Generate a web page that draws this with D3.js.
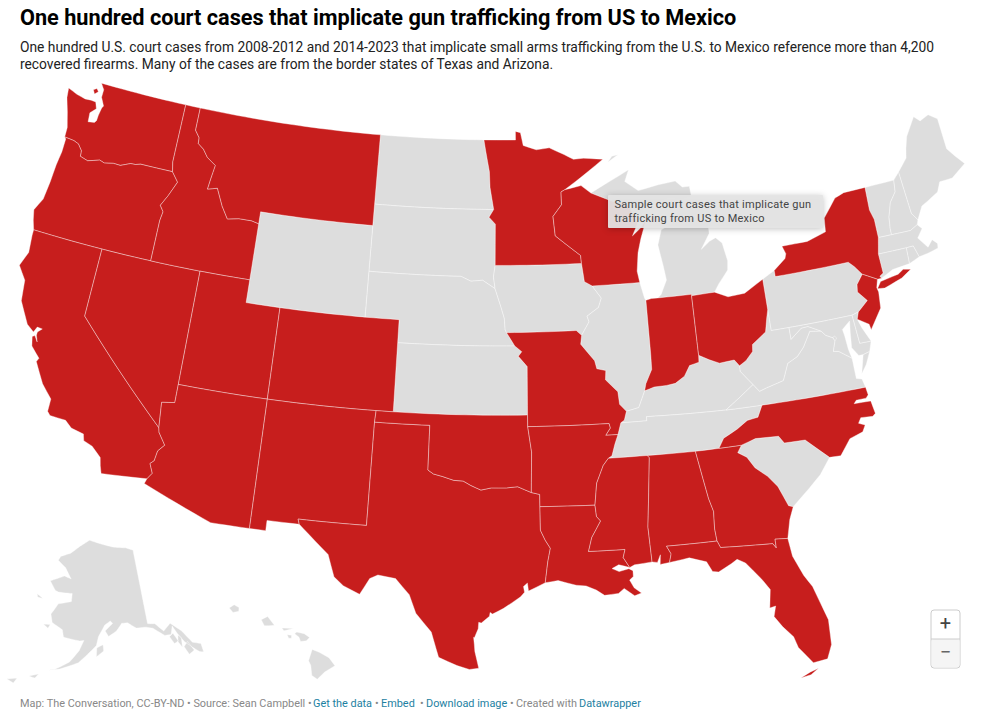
<!DOCTYPE html>
<html>
<head>
<meta charset="utf-8">
<script src="https://cdn.jsdelivr.net/npm/d3@7"></script>
<style>
  html, body { margin: 0; padding: 0; background: #fff; }
  svg { display: block; font-family: Roboto, sans-serif; }
  .state { stroke: #fff; stroke-width: 0.5; stroke-opacity: 0.75; stroke-linejoin: round; }
  .tip-box { filter: drop-shadow(0 1px 3px rgba(0,0,0,0.25)); }
</style>
</head>
<body>
<svg id="chart" width="1000" height="719"></svg>
<script>
/* ============================================================
   TEXT
============================================================ */
const titleText = "One hundred court cases that implicate gun trafficking from US to Mexico";
const subtitleLines = [
  "One hundred U.S. court cases from 2008-2012 and 2014-2023 that implicate small arms trafficking from the U.S. to Mexico reference more than 4,200",
  "recovered firearms. Many of the cases are from the border states of Texas and Arizona."
];
const tooltipLines = ["Sample court cases that implicate gun", "trafficking from US to Mexico"];
const footerParts = ["Map: The Conversation, CC-BY-ND • Source: Sean Campbell •", "Get the data", "•", "Embed", "•", "Download image", "•", "Created with", "Datawrapper"];
const footerLinks = ["Get the data", "Embed", "Download image", "Datawrapper"];

/* ============================================================
   DATA: WHICH STATES HAVE CASES
============================================================ */
const statesWithCases = ["WA","OR","CA","NV","ID","MT","UT","AZ","CO","NM","TX","OK","MN","WI","MO",
  "AR","LA","MS","AL","GA","FL","NC","IN","OH","NY","NJ"];
const statesWithout = ["ND","SD","NE","KS","WY","IA","IL","MI","PA","KY","TN","VA","WV","MD","DE","DC",
  "SC","VT","NH","ME","MA","CT","RI"];

/* ============================================================
   DATA: STATE OUTLINES (lon, lat)
============================================================ */
const WA = [[[-122.76,49],[-117.03,49],[-117.04,46.42],[-116.92,46],[-118.98,46],[-119.3,45.93],[-119.6,45.92],[-120.2,45.73],[-120.65,45.74],[-121.2,45.65],[-121.53,45.72],[-122.25,45.55],[-122.76,45.65],[-122.8,45.9],[-123.1,46.15],[-123.43,46.23],[-123.7,46.25],[-124.05,46.27],[-124.07,46.7],[-124.2,47],[-124.35,47.35],[-124.65,47.95],[-124.73,48.38],[-124.1,48.22],[-123.5,48.13],[-123.1,48.15],[-122.78,48.13],[-122.62,47.85],[-122.95,47.6],[-122.9,47.2],[-122.5,47.25],[-122.4,47.35],[-122.38,47.6],[-122.3,47.95],[-122.22,48.05],[-122.5,48.4],[-122.5,48.75]],
  [[-123.15,48.62],[-122.95,48.72],[-122.8,48.6],[-123,48.45]]];
const OR = [[[-124.05,46.27],[-123.7,46.25],[-123.43,46.23],[-123.1,46.15],[-122.8,45.9],[-122.76,45.65],[-122.25,45.55],[-121.53,45.72],[-121.2,45.65],[-120.65,45.74],[-120.2,45.73],[-119.6,45.92],[-119.3,45.93],[-118.98,46],[-116.92,46],[-116.47,45.6],[-116.85,44.95],[-117.2,44.45],[-116.95,44.2],[-117.03,43.8],[-117.03,42],[-120,42],[-124.21,42],[-124.4,42.4],[-124.55,42.84],[-124.2,43.4],[-124.1,44.2],[-124.05,45],[-123.95,45.6],[-123.95,46.2]]];
const CA = [[[-124.21,42],[-120,42],[-120,39],[-114.63,35],[-114.57,34.8],[-114.14,34.3],[-114.45,34],[-114.53,33.55],[-114.72,33.4],[-114.5,33],[-114.72,32.72],[-117.12,32.53],[-117.25,32.85],[-117.35,33.2],[-117.9,33.6],[-118.4,33.75],[-118.5,34.03],[-119.2,34.15],[-119.6,34.42],[-120.47,34.45],[-120.65,34.6],[-120.65,35.15],[-121.3,35.7],[-121.95,36.55],[-121.86,36.72],[-122.1,36.9],[-122.42,37.15],[-122.55,37.55],[-122.42,37.62],[-122.2,37.38],[-122.34,37.65],[-122.34,37.8],[-122.12,37.98],[-122.42,38],[-122.55,37.75],[-123,38],[-123.7,38.9],[-123.85,39.8],[-124.4,40.35],[-124.1,41],[-124.2,41.75]]];
const NV = [[[-120,42],[-117.03,42],[-114.04,42],[-114.04,37],[-114.04,36.2],[-114.75,36.1],[-114.63,35],[-120,39]]];
const ID = [[[-117.03,49],[-116.05,49],[-116.05,48],[-115.72,47.7],[-115.7,47.45],[-115.3,47.25],[-114.95,46.93],[-114.35,46.65],[-114.48,46],[-114.55,45.57],[-113.95,45.69],[-113.45,44.95],[-113,44.45],[-112.3,44.55],[-111.5,44.55],[-111.05,44.47],[-111.05,42],[-114.04,42],[-117.03,42],[-117.03,43.8],[-116.95,44.2],[-117.2,44.45],[-116.85,44.95],[-116.47,45.6],[-116.92,46],[-117.04,46.42]]];
const MT = [[[-116.05,49],[-104.05,49],[-104.05,45.94],[-104.05,45],[-111.05,45],[-111.05,44.47],[-111.5,44.55],[-112.3,44.55],[-113,44.45],[-113.45,44.95],[-113.95,45.69],[-114.55,45.57],[-114.48,46],[-114.35,46.65],[-114.95,46.93],[-115.3,47.25],[-115.7,47.45],[-115.72,47.7],[-116.05,48]]];
const WY = [[[-111.05,45],[-104.05,45],[-104.05,43],[-104.05,41],[-109.05,41],[-111.05,41],[-111.05,42],[-111.05,44.47]]];
const UT = [[[-114.04,42],[-111.05,42],[-111.05,41],[-109.05,41],[-109.05,37],[-114.04,37]]];
const AZ = [[[-114.04,37],[-109.05,37],[-109.05,31.33],[-111.07,31.33],[-114.81,32.5],[-114.72,32.72],[-114.5,33],[-114.72,33.4],[-114.53,33.55],[-114.45,34],[-114.14,34.3],[-114.57,34.8],[-114.63,35],[-114.75,36.1],[-114.04,36.2]]];
const CO = [[[-109.05,41],[-104.05,41],[-102.05,41],[-102.05,40],[-102.05,37],[-103,37],[-109.05,37]]];
const NM = [[[-109.05,37],[-103,37],[-103.04,36.5],[-103.06,32],[-106.62,32],[-106.53,31.78],[-108.21,31.78],[-108.21,31.33],[-109.05,31.33]]];
const TX = [[[-103.04,36.5],[-100,36.5],[-100,34.56],[-99.7,34.4],[-99.2,34.3],[-98.6,34.15],[-98.1,34.13],[-97.7,33.95],[-97.15,33.75],[-96.6,33.85],[-95.8,33.85],[-95.2,33.9],[-94.48,33.64],[-94.04,33.55],[-94.04,33.02],[-94.04,31.99],[-93.8,31.55],[-93.55,31.2],[-93.7,30.6],[-93.75,30.3],[-93.85,29.7],[-94.7,29.35],[-94.75,29.7],[-94.95,29.55],[-94.9,29.3],[-95.1,29.1],[-95.95,28.6],[-96.5,28.35],[-96.62,28.42],[-96.65,28.25],[-97.05,27.95],[-97.18,27.98],[-97.2,27.7],[-97.38,27.3],[-97.42,27.32],[-97.38,27],[-97.35,26.7],[-97.15,25.96],[-97.6,25.9],[-98.2,26.06],[-99.1,26.4],[-99.5,27.5],[-100.3,28.3],[-100.67,29.1],[-101.4,29.77],[-102.3,29.88],[-102.7,29.7],[-103.15,28.98],[-104,29.3],[-104.5,29.65],[-104.9,30.6],[-106,31.4],[-106.53,31.78],[-106.62,32],[-103.06,32]]];
const OK = [[[-103,37],[-102.05,37],[-94.62,37],[-94.62,36.5],[-94.43,35.4],[-94.48,33.64],[-95.2,33.9],[-95.8,33.85],[-96.6,33.85],[-97.15,33.75],[-97.7,33.95],[-98.1,34.13],[-98.6,34.15],[-99.2,34.3],[-99.7,34.4],[-100,34.56],[-100,36.5],[-103.04,36.5]]];
const KS = [[[-102.05,40],[-95.3,40],[-94.9,39.75],[-95.1,39.55],[-94.6,39.1],[-94.62,37],[-102.05,37]]];
const NE = [[[-104.05,43],[-98.5,43],[-97.9,42.8],[-97.2,42.85],[-96.45,42.49],[-96.1,41.7],[-95.9,41.2],[-95.85,40.7],[-95.77,40.58],[-95.3,40],[-102.05,40],[-102.05,41],[-104.05,41]]];
const SD = [[[-104.05,45.94],[-96.56,45.94],[-96.85,45.6],[-96.45,45.3],[-96.45,43.5],[-96.55,43],[-96.45,42.49],[-97.2,42.85],[-97.9,42.8],[-98.5,43],[-104.05,43],[-104.05,45]]];
const ND = [[[-104.05,49],[-97.23,49],[-97.1,48.5],[-96.85,47.6],[-96.8,46.9],[-96.56,45.94],[-104.05,45.94]]];
const MN = [[[-97.23,49],[-95.15,49],[-95.15,49.38],[-94.82,49.32],[-94.65,48.75],[-93.8,48.55],[-92.95,48.62],[-92,48.3],[-91.4,48.07],[-90.75,48.1],[-89.5,48],[-90,47.75],[-91,47.25],[-92.05,46.75],[-92.29,46.66],[-92.29,46.1],[-92.85,45.6],[-92.75,44.75],[-91.25,43.85],[-91.22,43.5],[-96.45,43.5],[-96.45,45.3],[-96.85,45.6],[-96.56,45.94],[-96.8,46.9],[-96.85,47.6],[-97.1,48.5]]];
const IA = [[[-96.45,43.5],[-91.22,43.5],[-91.1,42.7],[-90.65,42.5],[-90.15,41.95],[-90.35,41.55],[-91.05,41.2],[-90.95,40.95],[-91.42,40.38],[-91.72,40.6],[-95.77,40.58],[-95.85,40.7],[-95.9,41.2],[-96.1,41.7],[-96.45,42.49],[-96.55,43]]];
const MO = [[[-95.77,40.58],[-91.72,40.6],[-91.42,40.38],[-91.5,40],[-90.75,39.25],[-90.65,38.9],[-90.15,38.8],[-90.2,38.4],[-89.55,37.85],[-89.5,37.3],[-89.15,36.98],[-89.3,36.6],[-89.5,36.5],[-89.7,36],[-90.37,36],[-90.1,36.3],[-90.15,36.5],[-94.62,36.5],[-94.62,37],[-94.6,39.1],[-95.1,39.55],[-94.9,39.75],[-95.3,40]]];
const AR = [[[-94.62,36.5],[-90.15,36.5],[-90.1,36.3],[-90.37,36],[-89.7,36],[-89.9,35.6],[-90.1,35.1],[-90.3,35],[-90.6,34.7],[-91,33.95],[-91.15,33],[-94.04,33.02],[-94.04,33.55],[-94.48,33.64],[-94.43,35.4]]];
const LA = [[[-94.04,33.02],[-91.15,33],[-91.1,32.5],[-90.9,32.3],[-91.4,31.6],[-91.6,31],[-89.73,31],[-89.85,30.65],[-89.55,30.2],[-90.1,30.35],[-90.45,30.2],[-90.1,30.05],[-89.6,30.15],[-89.4,30.05],[-89.4,29.8],[-89.6,29.65],[-89.4,29.3],[-89.05,29.05],[-89.4,28.95],[-89.9,29.3],[-90.2,29.1],[-90.9,29.05],[-91.3,29.3],[-91.8,29.5],[-92.3,29.55],[-93.2,29.78],[-93.85,29.7],[-93.75,30.3],[-93.7,30.6],[-93.55,31.2],[-93.8,31.55],[-94.04,31.99]]];
const MS = [[[-90.3,35],[-88.2,35],[-88.1,34.9],[-88.47,31.9],[-88.4,30.37],[-89.3,30.3],[-89.55,30.2],[-89.85,30.65],[-89.73,31],[-91.6,31],[-91.4,31.6],[-90.9,32.3],[-91.1,32.5],[-91.15,33],[-91,33.95],[-90.6,34.7]]];
const AL = [[[-88.2,35],[-85.6,34.98],[-85.18,32.87],[-85,32.3],[-85.05,31.55],[-85,31],[-87.6,31],[-87.4,30.65],[-87.52,30.28],[-88,30.23],[-87.95,30.65],[-88.13,30.33],[-88.4,30.37],[-88.47,31.9],[-88.1,34.9]]];
const GA = [[[-85.6,34.98],[-84.32,34.99],[-83.1,35],[-83.35,34.7],[-82.9,34.45],[-82.55,33.95],[-81.95,33.5],[-81.5,33],[-81.1,32.1],[-80.87,32.03],[-81.15,31.5],[-81.4,30.7],[-82.05,30.75],[-82.05,30.36],[-82.2,30.57],[-84.86,30.7],[-85,31],[-85.05,31.55],[-85,32.3],[-85.18,32.87]]];
const FL = [[[-87.6,31],[-85,31],[-84.86,30.7],[-82.2,30.57],[-82.05,30.36],[-82.05,30.75],[-81.4,30.7],[-81.3,29.9],[-80.9,29],[-80.55,28.45],[-80.05,26.9],[-80.1,25.8],[-80.4,25.2],[-81.1,25.13],[-81.7,25.9],[-81.85,26.4],[-82.3,26.9],[-82.65,27.4],[-82.5,27.85],[-82.8,27.8],[-82.65,28.6],[-83,29.1],[-83.7,29.9],[-84.1,30.1],[-84.4,29.95],[-85.1,29.65],[-85.4,29.7],[-85.65,30.15],[-86.5,30.4],[-87.52,30.28],[-87.4,30.65]],
  [[-81.8,24.55],[-81.3,24.75],[-80.9,24.85],[-81.3,24.62]]];
const SC = [[[-83.1,35],[-82.3,35.2],[-81.05,35.15],[-80.8,34.82],[-79.67,34.8],[-78.55,33.87],[-79.2,33.2],[-79.9,32.7],[-80.87,32.03],[-81.1,32.1],[-81.5,33],[-81.95,33.5],[-82.55,33.95],[-82.9,34.45],[-83.35,34.7]]];
const NC = [[[-84.32,34.99],[-83.1,35],[-82.3,35.2],[-81.05,35.15],[-80.8,34.82],[-79.67,34.8],[-78.55,33.87],[-77.95,33.85],[-77.3,34.5],[-76.55,34.68],[-76.35,34.95],[-76.68,35.08],[-76.5,35.3],[-75.85,35.25],[-75.68,35.35],[-75.78,35.92],[-76.7,35.95],[-76.55,36.08],[-76,36.08],[-75.85,36.2],[-75.9,36.55],[-81.68,36.59],[-82,36.1],[-82.6,36.03],[-83.2,35.72],[-84,35.4]]];
const TN = [[[-90.3,35],[-88.2,35],[-85.6,34.98],[-84.32,34.99],[-84,35.4],[-83.2,35.72],[-82.6,36.03],[-82,36.1],[-81.68,36.59],[-83.68,36.6],[-88.07,36.68],[-88.07,36.5],[-89.5,36.5],[-89.7,36],[-89.9,35.6],[-90.1,35.1]]];
const KY = [[[-89.5,36.5],[-88.07,36.5],[-88.07,36.68],[-83.68,36.6],[-82.95,37],[-82,37.53],[-82.6,38.17],[-82.6,38.42],[-82.85,38.7],[-83.7,38.65],[-84.25,38.85],[-84.82,39.1],[-84.85,38.8],[-85.4,38.7],[-85.75,38.27],[-86.3,38],[-86.8,37.95],[-87.5,37.93],[-88.05,37.8],[-88.45,37.1],[-89.15,36.98],[-89.3,36.6]]];
const VA = [[[-83.68,36.6],[-81.68,36.59],[-75.9,36.55],[-76,36.93],[-76.3,37],[-76.3,37.6],[-76.3,37.9],[-76.95,38.3],[-77.25,38.35],[-77.04,38.79],[-77.12,38.93],[-77.5,39.1],[-77.72,39.32],[-78.35,39.4],[-78.87,38.77],[-79.3,38.42],[-79.9,38.2],[-80.3,37.5],[-81.3,37.3],[-81.7,37.2],[-82,37.53],[-82.95,37]],
  [[-75.95,37.15],[-75.65,37.95],[-75.25,38.03],[-75.6,37.5]]];
const WV = [[[-82.6,38.42],[-82.6,38.17],[-82,37.53],[-81.7,37.2],[-81.3,37.3],[-80.3,37.5],[-79.9,38.2],[-79.3,38.42],[-78.87,38.77],[-78.35,39.4],[-77.72,39.32],[-78.4,39.62],[-78.8,39.6],[-79.48,39.2],[-79.48,39.72],[-80.52,39.72],[-80.52,40.64],[-80.65,40.3],[-80.85,39.7],[-81.7,39.25],[-81.75,38.95],[-82.2,38.6]]];
const OH = [[[-84.82,41.7],[-83.45,41.73],[-82.7,41.45],[-81.7,41.5],[-80.52,41.98],[-80.52,40.64],[-80.65,40.3],[-80.85,39.7],[-81.7,39.25],[-81.75,38.95],[-82.2,38.6],[-82.6,38.42],[-82.85,38.7],[-83.7,38.65],[-84.25,38.85],[-84.82,39.1]]];
const IN = [[[-87.53,41.71],[-87.2,41.76],[-86.82,41.76],[-84.82,41.76],[-84.82,41.7],[-84.82,39.1],[-84.85,38.8],[-85.4,38.7],[-85.75,38.27],[-86.3,38],[-86.8,37.95],[-87.5,37.93],[-88.05,37.8],[-87.95,38.1],[-87.55,38.7],[-87.53,39.35]]];
const IL = [[[-90.65,42.5],[-87.8,42.5],[-87.6,41.8],[-87.53,41.71],[-87.53,39.35],[-87.55,38.7],[-87.95,38.1],[-88.05,37.8],[-88.45,37.1],[-89.15,36.98],[-89.5,37.3],[-89.55,37.85],[-90.2,38.4],[-90.15,38.8],[-90.65,38.9],[-90.75,39.25],[-91.5,40],[-91.42,40.38],[-90.95,40.95],[-91.05,41.2],[-90.35,41.55],[-90.15,41.95]]];
const WI = [[[-92.29,46.66],[-92.05,46.75],[-91,46.9],[-90.4,46.55],[-89.1,46.13],[-88.1,45.9],[-87.8,45.35],[-87.6,45.1],[-88,44.55],[-87.4,44.9],[-87.05,45.25],[-87.5,44.4],[-87.75,43.8],[-87.9,43],[-87.8,42.5],[-90.65,42.5],[-91.1,42.7],[-91.22,43.5],[-91.25,43.85],[-92.75,44.75],[-92.85,45.6],[-92.29,46.1]]];
const MI = [[[-90.4,46.55],[-89.1,46.13],[-88.1,45.9],[-87.8,45.35],[-87.6,45.1],[-87.05,45.75],[-86.5,45.85],[-85.5,46.05],[-84.75,45.9],[-84.1,46],[-84.15,46.45],[-84.6,46.45],[-85,46.75],[-86.1,46.67],[-87.4,46.5],[-88.2,46.95],[-87.9,47.45],[-88.6,47.2],[-89.6,46.85]],
  [[-86.82,41.76],[-84.82,41.76],[-84.82,41.7],[-83.45,41.73],[-83.15,42.05],[-82.5,42.6],[-82.42,43],[-82.6,43.8],[-82.95,44.07],[-83.35,43.95],[-83.9,43.65],[-83.3,44.3],[-83.3,44.9],[-83.45,45.35],[-84.7,45.78],[-85.05,45.4],[-85.4,45.2],[-85.55,44.9],[-86.2,44.7],[-86.5,44.05],[-86.3,43.1],[-86.2,42.5],[-86.6,41.9]],
  [[-89.2,47.85],[-88.5,48.15],[-88.9,48.1]]];
const PA = [[[-80.52,41.98],[-79.76,42.27],[-79.76,42],[-75.35,42],[-75.05,41.75],[-74.7,41.36],[-75.13,40.97],[-75.2,40.65],[-74.75,40.2],[-75.4,39.8],[-75.79,39.72],[-79.48,39.72],[-80.52,39.72],[-80.52,40.64]]];
const NY = [[[-79.76,42.27],[-79,42.7],[-78.9,42.9],[-79.05,43.25],[-77.5,43.25],[-76.3,43.5],[-76.2,44.1],[-75.3,44.85],[-74.7,45],[-73.34,45.01],[-73.4,44],[-73.25,43.55],[-73.27,42.75],[-73.5,42.05],[-73.49,41.2],[-73.72,41.1],[-73.65,41],[-73.9,41],[-74.7,41.36],[-75.05,41.75],[-75.35,42],[-79.76,42]],
  [[-74.02,40.6],[-73.75,40.87],[-72.65,41],[-72.3,41.15],[-71.87,41.07],[-72.5,40.8],[-73.6,40.55]]];
const NJ = [[[-74.7,41.36],[-73.9,41],[-74.05,40.65],[-74,40.45],[-74.1,39.75],[-74.9,38.93],[-74.95,39.18],[-75.55,39.5],[-75.4,39.8],[-74.75,40.2],[-75.2,40.65],[-75.13,40.97]]];
const DE = [[[-75.79,39.72],[-75.4,39.8],[-75.55,39.5],[-75.4,39.1],[-75.05,38.45],[-75.7,38.46]]];
const MD = [[[-79.48,39.72],[-75.79,39.72],[-75.7,38.46],[-75.05,38.45],[-75.25,38.03],[-75.65,37.95],[-75.9,37.95],[-76.2,38.35],[-76.1,39],[-76,39.5],[-76.5,39.2],[-76.45,38.9],[-76.4,38.3],[-76.3,37.9],[-76.95,38.3],[-77.25,38.35],[-77.04,38.79],[-77.12,38.93],[-77.5,39.1],[-77.72,39.32],[-78.4,39.62],[-78.8,39.6],[-79.48,39.2]]];
const DC = [[[-77.12,38.93],[-77.04,39],[-76.91,38.89],[-77.04,38.79]]];
const CT = [[[-73.5,42.05],[-71.8,42.02],[-71.85,41.32],[-72.9,41.25],[-73.65,41],[-73.72,41.1],[-73.49,41.2]]];
const RI = [[[-71.8,42.02],[-71.38,42.02],[-71.2,41.5],[-71.85,41.32]]];
const MA = [[[-73.27,42.75],[-72.46,42.73],[-71.3,42.7],[-70.82,42.87],[-70.6,42.65],[-71,42.3],[-70.55,41.8],[-70.2,42.07],[-69.95,41.85],[-70,41.65],[-70.65,41.55],[-71.2,41.5],[-71.38,42.02],[-71.8,42.02],[-73.5,42.05]]];
const VT = [[[-73.34,45.01],[-71.5,45.01],[-71.6,44.5],[-72.05,44.1],[-72.35,43.5],[-72.45,43],[-72.46,42.73],[-73.27,42.75],[-73.25,43.55],[-73.4,44]]];
const NH = [[[-71.5,45.01],[-71.08,45.3],[-70.98,43.4],[-70.7,43.07],[-70.82,42.87],[-71.3,42.7],[-72.46,42.73],[-72.45,43],[-72.35,43.5],[-72.05,44.1],[-71.6,44.5]]];
const ME = [[[-71.08,45.3],[-70.4,45.8],[-70.25,46.2],[-70,46.7],[-69.23,47.46],[-68.9,47.2],[-68.3,47.36],[-67.8,47.07],[-67.8,45.7],[-67.45,45.3],[-67,44.85],[-68,44.4],[-68.8,44.4],[-69.1,44],[-69.8,43.75],[-70.25,43.6],[-70.7,43.07],[-70.98,43.4]]];

const AK = [[[-141,69.65],[-143.5,70.1],[-148,70.4],[-152,70.85],[-156.6,71.35],[-160,70.5],[-163,69.5],[-166.2,68.9],[-166.8,68.35],[-164,67.6],[-163,67],[-161.8,66.3],[-164,66.55],[-168,65.65],[-166,64.6],[-165,64.45],[-161,64.5],[-161,63.5],[-164.5,63],[-166,61.6],[-165.3,60.6],[-162.5,59.9],[-162,59],[-158,58.7],[-157,58.8],[-158,57.5],[-160,56],[-163,54.9],[-164.8,54.6],[-162,55],[-158,56],[-156,57.1],[-154,58.2],[-153.5,59.3],[-151.9,60.7],[-150.4,61.2],[-149.8,60.9],[-151.8,60],[-151,59.3],[-149,59.9],[-147.5,60.8],[-146,60.8],[-144,60],[-141.5,59.9],[-139.9,59.6],[-137.5,58.4],[-136,58.3],[-135.2,59.3],[-134.5,58.2],[-133.5,57],[-132,55.9],[-131,55.2],[-130.2,55],[-130.1,56.1],[-131.8,56.6],[-133.4,58.4],[-135.5,59.7],[-137.5,58.95],[-139.2,60.1],[-141,60.3]],
  [[-136.5,58.1],[-135.5,58.4],[-134.8,57.3],[-135.8,57.1]],
  [[-134.5,58],[-133.9,57.6],[-134.3,56.4],[-134.9,57.2]],
  [[-133.9,56.4],[-132.8,56.9],[-132,55.6],[-133.3,55.3]],
  [[-153.9,57.9],[-152.4,58.3],[-152.3,57.5],[-154,56.8]],
  [[-170.8,63.7],[-169,63.3],[-170.5,63.3]],
  [[-167.4,60.2],[-165.7,60.3],[-166.1,59.8]],
  [[-168.2,53.5],[-166.3,54],[-166.9,53.4]],
  [[-172.5,52.5],[-170.5,52.9],[-171,52.2]]];
const HI = [[[-155.88,20.25],[-155.55,20.12],[-155.1,19.88],[-154.82,19.52],[-155.3,19.25],[-155.65,18.93],[-155.9,19.1],[-155.95,19.55],[-156.05,19.75]],
  [[-156.7,20.95],[-156.6,21.02],[-156.25,20.95],[-156,20.78],[-156.15,20.63],[-156.42,20.6],[-156.5,20.8]],
  [[-157.3,21.2],[-156.75,21.18],[-157.2,21.08]],
  [[-157.05,20.9],[-156.85,20.88],[-156.85,20.75],[-156.98,20.75]],
  [[-158.27,21.57],[-157.97,21.71],[-157.65,21.32],[-157.9,21.3],[-158.12,21.3]],
  [[-159.78,22.08],[-159.55,22.22],[-159.32,22.1],[-159.33,21.93],[-159.6,21.88]]];

const shapes = {WA,OR,CA,NV,ID,MT,WY,UT,AZ,CO,NM,TX,OK,KS,NE,SD,ND,MN,IA,MO,AR,LA,MS,AL,GA,FL,SC,NC,TN,KY,VA,WV,OH,IN,IL,WI,MI,PA,NY,NJ,DE,MD,DC,CT,RI,MA,VT,NH,ME};

/* ============================================================
   GEO HELPERS
============================================================ */
// borders follow parallels, so add points along long edges before projecting
function densify(ring) {
  const out = [];
  ring.forEach((p, i) => {
    const q = ring[(i + 1) % ring.length];
    const n = Math.max(Math.ceil(Math.max(Math.abs(q[0] - p[0]), Math.abs(q[1] - p[1])) / 0.5), 1);
    for (let k = 0; k < n; k++) {
      out.push([p[0] + (q[0] - p[0]) * k / n, p[1] + (q[1] - p[1]) * k / n]);
    }
  });
  out.push(out[0]);
  return out;
}

function toFeature(rings) {
  return {
    type: "MultiPolygon",
    coordinates: rings.map(r => {
      let ring = densify(r);
      if (d3.geoArea({ type: "Polygon", coordinates: [ring] }) > 2 * Math.PI) ring = ring.slice().reverse();
      return [ring];
    })
  };
}

/* ============================================================
   PROJECTIONS
============================================================ */
const lower48 = d3.geoAlbers().scale(1310).translate([492, 376]);
const alaska = d3.geoConicEqualArea().rotate([154, 0]).center([-2, 58.5]).parallels([55, 65]).scale(460).translate([88, 643]);
const hawaii = d3.geoConicEqualArea().rotate([157, 0]).center([-3, 19.9]).parallels([8, 18]).scale(1300).translate([224, 657]);

/* ============================================================
   DRAW
============================================================ */
const svg = d3.select("#chart");
const red = "#c71e1d", grey = "#dddddd";

svg.append("text").attr("x", 20).attr("y", 25)
  .attr("font-size", 21.7).attr("font-weight", 700).attr("fill", "#000").text(titleText);

svg.selectAll("text.sub").data(subtitleLines).enter().append("text")
  .attr("class", "sub").attr("x", 20).attr("y", (d, i) => 52 + i * 17)
  .attr("font-size", 13.8).attr("fill", "#222").text(d => d);

const map = svg.append("g");
const path48 = d3.geoPath(lower48);

map.selectAll("path.grey").data(statesWithout).enter().append("path")
  .attr("class", "state grey").attr("fill", grey)
  .attr("d", d => path48(toFeature(shapes[d])));

map.selectAll("path.red").data(statesWithCases).enter().append("path")
  .attr("class", "state red").attr("fill", red)
  .attr("d", d => path48(toFeature(shapes[d])));

map.append("path").attr("class", "state").attr("fill", grey).attr("d", d3.geoPath(alaska)(toFeature(AK)));
map.append("path").attr("class", "state").attr("fill", grey).attr("d", d3.geoPath(hawaii)(toFeature(HI)));

// tooltip
const tip = svg.append("g").attr("transform", "translate(608,195)");
tip.append("rect").attr("class", "tip-box").attr("width", 215).attr("height", 33)
  .attr("rx", 1).attr("fill", "#e4e4e4").attr("fill-opacity", 0.94);
tip.selectAll("text").data(tooltipLines).enter().append("text")
  .attr("x", 6.5).attr("y", (d, i) => 13 + i * 14)
  .attr("font-size", 11).attr("letter-spacing", 0.25).attr("fill", "#444").text(d => d);

// zoom buttons
const zoomBtns = svg.append("g").attr("transform", "translate(931,610)");
zoomBtns.append("rect").attr("width", 29).attr("height", 58).attr("rx", 3)
  .attr("fill", "#fff").attr("stroke", "#ccc").attr("stroke-width", 1);
zoomBtns.append("rect").attr("x", 0.5).attr("y", 29).attr("width", 28).attr("height", 28.5).attr("rx", 3).attr("fill", "#f5f5f5");
zoomBtns.append("line").attr("x1", 0).attr("x2", 29).attr("y1", 29).attr("y2", 29).attr("stroke", "#ccc");
zoomBtns.append("text").attr("x", 14.5).attr("y", 20).attr("text-anchor", "middle")
  .attr("font-size", 20).attr("fill", "#444").text("+");
zoomBtns.append("text").attr("x", 14.5).attr("y", 49).attr("text-anchor", "middle")
  .attr("font-size", 20).attr("fill", "#666").text("−");

// footer, each piece placed at its own x to follow the original spacing
const footerX = [20, 313, 375, 381, 420, 426, 510, 516, 579];
svg.selectAll("text.foot").data(footerParts).enter().append("text")
  .attr("class", "foot").attr("x", (d, i) => footerX[i]).attr("y", 707).attr("font-size", 10.9)
  .attr("fill", d => footerLinks.includes(d) ? "#1d81a2" : "#888").text(d => d);
</script>
</body>
</html>
